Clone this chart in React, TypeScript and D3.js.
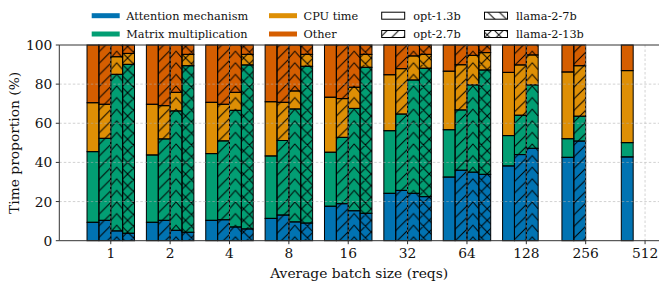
import { useMemo } from "react";
import * as d3 from "d3";

const batchSizes = ["1", "2", "4", "8", "16", "32", "64", "128", "256", "512"];
const models = ["opt-1.3b", "opt-2.7b", "llama-2-7b", "llama-2-13b"];
const components = ["Attention mechanism", "Matrix multiplication", "CPU time", "Other"];
const componentColors = ["#0173B2", "#029E73", "#DE8F05", "#D55E00"];

// proportions (%) per model, one entry per batch size that was measured
const opt13Attention = [9.4, 9.4, 10.4, 11.4, 17.6, 24.2, 32.5, 38.2, 42.6, 42.8];
const opt13Matmul = [36.1, 34.4, 34.1, 31.9, 27.6, 32.0, 24.2, 15.5, 9.5, 7.3];
const opt13Cpu = [25.0, 25.9, 26.2, 27.7, 28.1, 28.6, 29.9, 32.3, 34.1, 36.8];
const opt13Other = [29.5, 30.3, 29.3, 29.0, 26.7, 15.2, 13.4, 14.0, 13.8, 13.1];

const opt27Attention = [10.4, 10.4, 10.7, 13.1, 18.9, 25.7, 36.0, 44.0, 50.9];
const opt27Matmul = [41.9, 41.6, 40.3, 38.1, 33.9, 39.0, 30.8, 20.1, 12.7];
const opt27Cpu = [17.4, 17.0, 18.7, 19.5, 19.8, 23.2, 23.1, 25.7, 25.8];
const opt27Other = [30.3, 31.0, 30.3, 29.3, 27.4, 12.1, 10.1, 10.2, 10.6];

const llama7Attention = [5.0, 5.3, 7.0, 9.6, 15.3, 24.2, 35.0, 47.2];
const llama7Matmul = [80.0, 61.0, 59.6, 57.7, 52.3, 57.9, 44.6, 32.4];
const llama7Cpu = [9.0, 9.5, 9.2, 9.2, 10.8, 12.3, 15.1, 15.3];
const llama7Other = [6.0, 24.2, 24.2, 23.5, 21.6, 5.6, 5.3, 5.1];

const llama13Attention = [3.8, 4.3, 6.0, 9.0, 14.0, 22.5, 33.9];
const llama13Matmul = [86.3, 85.1, 83.8, 80.1, 74.6, 65.6, 53.3];
const llama13Cpu = [5.6, 5.8, 5.4, 6.1, 6.6, 7.1, 8.9];
const llama13Other = [4.3, 4.8, 4.8, 4.8, 4.8, 4.8, 3.9];

const modelData = [
  [opt13Attention, opt13Matmul, opt13Cpu, opt13Other],
  [opt27Attention, opt27Matmul, opt27Cpu, opt27Other],
  [llama7Attention, llama7Matmul, llama7Cpu, llama7Other],
  [llama13Attention, llama13Matmul, llama13Cpu, llama13Other],
];

const yTicks = [0, 20, 40, 60, 80, 100];

const width = 659;
const height = 281;
const margin = { left: 59.3, right: 0, top: 45, bottom: 40.3 };
const font = "'DejaVu Serif', serif";
const fontSize = 13.8;
const legendFontSize = 11.3;
const hatchStep = 11.6;
const barFrac = 0.2;

type Seg = { key: string; model: number; group: number; comp: number; x: number; w: number; y0: number; y1: number };

export default function App() {
  const x = d3.scaleLinear().domain([-0.867, 9.235]).range([margin.left, width - margin.right]);
  const y = d3.scaleLinear().domain([0, 100]).range([height - margin.bottom, margin.top]);
  const step = x(1) - x(0);
  const bw = step * barFrac;

  const segs = useMemo(() => {
    const out: Seg[] = [];
    modelData.forEach((series, m) => {
      const n = series[0].length;
      for (let g = 0; g < n; g++) {
        const stacked = d3.stack<number>().keys(["0", "1", "2", "3"]).value((_, k) => series[+k][g])([g]);
        stacked.forEach((layer, c) => {
          const [a, b] = layer[0];
          out.push({
            key: `${m}-${g}-${c}`,
            model: m,
            group: g,
            comp: c,
            x: x(g) + (m - 2) * bw,
            w: bw,
            y0: a,
            y1: b,
          });
        });
      }
    });
    return out;
  }, [bw]);

  const p = hatchStep;
  const slashPath = `M0,${p} L${p},0 M${-p / 4},${p / 4} L${p / 4},${-p / 4} M${(3 * p) / 4},${(5 * p) / 4} L${(5 * p) / 4},${(3 * p) / 4}`;
  const backPath = `M0,0 L${p},${p} M${-p / 4},${(3 * p) / 4} L${p / 4},${(5 * p) / 4} M${(3 * p) / 4},${-p / 4} L${(5 * p) / 4},${p / 4}`;

  const patternFor = (m: number, g: number) => {
    if (m === 1) return "url(#hatch-slash)";
    if (m === 2) return `url(#hatch-chev-${g})`;
    if (m === 3) return "url(#hatch-cross)";
    return "none";
  };

  const legendColor = [
    { i: 0, x: 91.7, y: 15.7 },
    { i: 1, x: 91.7, y: 34 },
    { i: 2, x: 269, y: 15.7 },
    { i: 3, x: 269, y: 34 },
  ];
  const legendHatch = [
    { m: 0, x: 381.7, y: 15.7, fill: "none" },
    { m: 1, x: 381.7, y: 34, fill: "url(#hatch-slash)" },
    { m: 2, x: 484.5, y: 15.7, fill: "url(#hatch-back)" },
    { m: 3, x: 484.5, y: 34, fill: "url(#hatch-cross)" },
  ];

  const plotBottom = y(0);
  const plotTop = y(100);

  return (
    <svg
      width={width}
      height={height}
      style={{ position: "absolute", left: 0, top: 0, background: "#fff" }}
      fontFamily={font}
    >
      <defs>
        <pattern id="hatch-slash" patternUnits="userSpaceOnUse" width={p} height={p}>
          <path d={slashPath} stroke="#000" strokeWidth={1} />
        </pattern>
        <pattern id="hatch-back" patternUnits="userSpaceOnUse" width={p} height={p}>
          <path d={backPath} stroke="#000" strokeWidth={1} />
        </pattern>
        <pattern id="hatch-cross" patternUnits="userSpaceOnUse" width={p} height={p}>
          <path d={slashPath + " " + backPath} stroke="#000" strokeWidth={1} />
        </pattern>
        {batchSizes.map((_, g) => {
          const bx = x(g);
          const h = bw / 2;
          return (
            <pattern
              key={g}
              id={`hatch-chev-${g}`}
              patternUnits="userSpaceOnUse"
              x={bx}
              y={0}
              width={bw}
              height={p}
            >
              <path
                d={`M0,${p} L${h},${p - h * 1.15} L${bw},${p} M0,${0} L${h},${-h * 1.15} L${bw},0`}
                stroke="#000"
                strokeWidth={1}
                fill="none"
              />
            </pattern>
          );
        })}
      </defs>

      <g>
        {segs.map((s) => (
          <rect
            key={s.key}
            x={s.x}
            y={y(s.y1)}
            width={s.w}
            height={y(s.y0) - y(s.y1)}
            fill={componentColors[s.comp]}
          />
        ))}
        {segs.map((s) => (
          <rect
            key={"h" + s.key}
            x={s.x}
            y={y(s.y1)}
            width={s.w}
            height={y(s.y0) - y(s.y1)}
            fill={patternFor(s.model, s.group)}
            stroke="#000"
            strokeWidth={1}
          />
        ))}
      </g>

      <g stroke="#b0b0b0" strokeWidth={0.8} strokeDasharray="2.5,2" opacity={0.7}>
        {yTicks.slice(1, -1).map((t) => (
          <line key={t} x1={margin.left} x2={width} y1={y(t)} y2={y(t)} />
        ))}
        {batchSizes.map((_, i) => (
          <line key={i} x1={x(i)} x2={x(i)} y1={plotTop} y2={plotBottom} />
        ))}
      </g>

      <g stroke="#333" strokeWidth={1}>
        <line x1={margin.left} x2={margin.left} y1={plotTop} y2={plotBottom} />
        <line x1={margin.left} x2={width} y1={plotBottom} y2={plotBottom} />
        <line x1={margin.left} x2={width} y1={plotTop} y2={plotTop} />
      </g>

      <g fontSize={fontSize} fill="#111">
        {yTicks.map((t) => (
          <g key={t}>
            <line x1={margin.left - 3.5} x2={margin.left} y1={y(t)} y2={y(t)} stroke="#333" />
            <text x={margin.left - 7} y={y(t)} dy="0.36em" textAnchor="end">
              {t}
            </text>
          </g>
        ))}
        {batchSizes.map((b, i) => (
          <g key={b}>
            <line x1={x(i)} x2={x(i)} y1={plotBottom} y2={plotBottom + 3.5} stroke="#333" />
            <text x={x(i)} y={plotBottom + 17} textAnchor="middle">
              {b}
            </text>
          </g>
        ))}
        <text x={(margin.left + width) / 2} y={277.5} textAnchor="middle">
          Average batch size (reqs)
        </text>
        <text transform={`translate(19,${(plotTop + plotBottom) / 2}) rotate(-90)`} textAnchor="middle">
          Time proportion (%)
        </text>
      </g>

      <g fontSize={legendFontSize} fill="#111">
        {legendColor.map((l) => (
          <g key={l.i}>
            <rect x={l.x} y={l.y - 2.5} width={28} height={5} fill={componentColors[l.i]} />
            <text x={l.x + 34.5} y={l.y} dy="0.36em">
              {components[l.i]}
            </text>
          </g>
        ))}
        {legendHatch.map((l) => (
          <g key={l.m}>
            <rect x={l.x} y={l.y - 3.5} width={23} height={7} fill="#fff" />
            <rect x={l.x} y={l.y - 3.5} width={23} height={7} fill={l.fill} stroke="#000" strokeWidth={1} />
            <text x={l.x + 31.5} y={l.y} dy="0.36em">
              {models[l.m]}
            </text>
          </g>
        ))}
      </g>
    </svg>
  );
}
